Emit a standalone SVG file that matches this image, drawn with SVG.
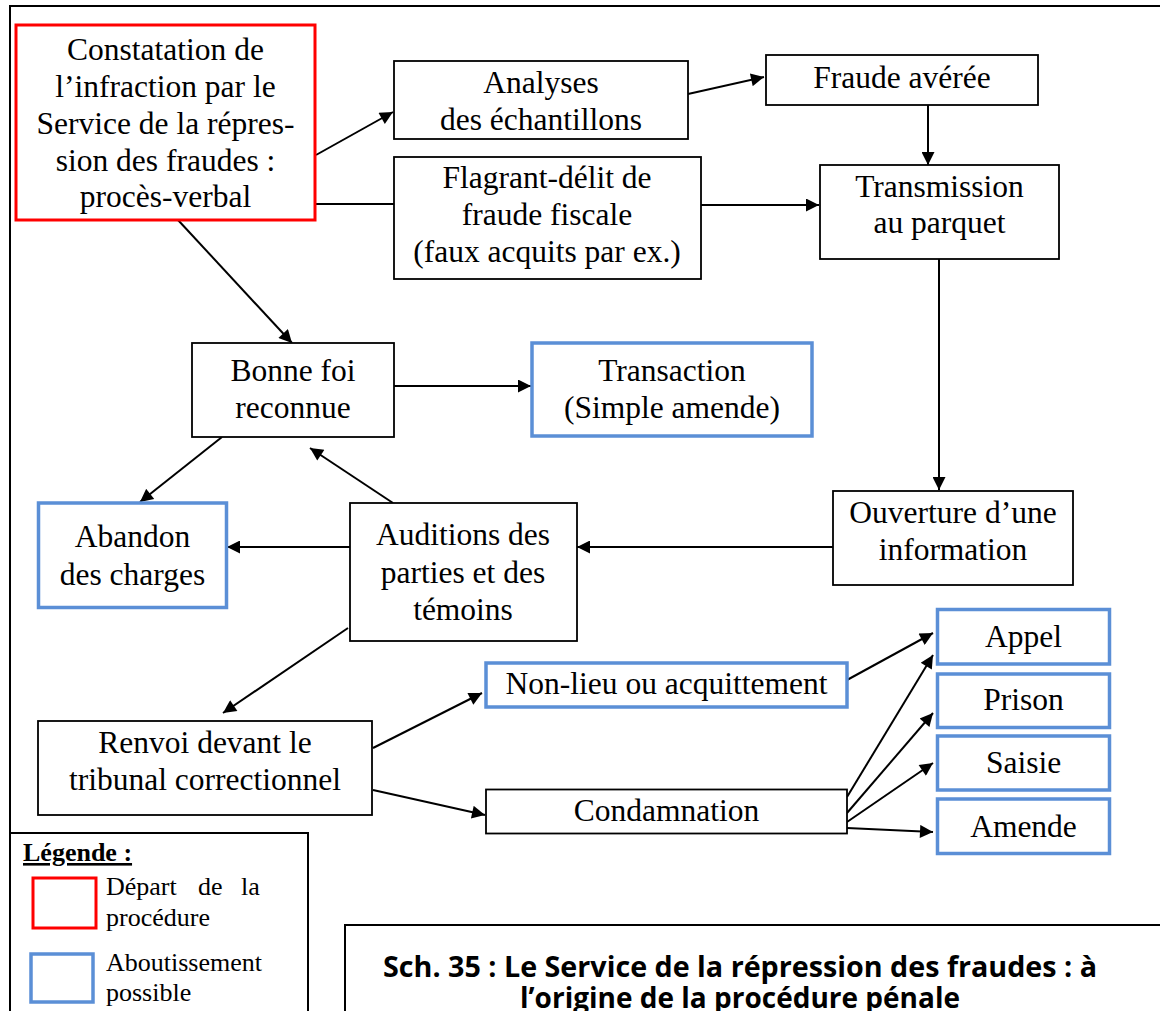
<svg xmlns="http://www.w3.org/2000/svg" width="1160" height="1011" viewBox="0 0 1160 1011">
<style>
.t{font-family:"Liberation Serif","Times New Roman",serif;font-size:31.5px;fill:#000;text-anchor:middle}
.lg{font-family:"Liberation Serif","Times New Roman",serif;font-size:26px;fill:#000}
.b{fill:#fff;stroke:#000;stroke-width:1.8}
.r{fill:#fff;stroke:#ff0000;stroke-width:3}
.u{fill:#fff;stroke:#5b8fd6;stroke-width:3.5}
.c{stroke:#000;stroke-width:2;fill:none}
.a{stroke:#000;stroke-width:2;fill:none;marker-end:url(#ah)}
.ttl{font-family:"Open Sans","Noto Sans","Liberation Sans",sans-serif;font-weight:bold;font-size:29px;fill:#000;text-anchor:middle}
</style>
<defs>
<marker id="ah" viewBox="0 0 10 10" refX="10" refY="5" markerWidth="15" markerHeight="13" markerUnits="userSpaceOnUse" orient="auto">
<path d="M0,0 L10,5 L0,10 z" fill="#000"/>
</marker>
</defs>
<rect width="1160" height="1011" fill="#fff"/>
<g id="frame">
<path d="M10,1011 V6 H1160" class="c" stroke-width="1.8"/>
</g>
<g id="connectors">
<line x1="316" y1="155" x2="393" y2="112" class="a"/>
<line x1="688" y1="94" x2="764" y2="77" class="a"/>
<line x1="928" y1="105" x2="928" y2="165" class="a"/>
<line x1="315" y1="204" x2="394" y2="204" class="c"/>
<line x1="701" y1="205" x2="819" y2="205" class="a"/>
<line x1="178" y1="220" x2="292" y2="343" class="a"/>
<line x1="939" y1="259" x2="939" y2="490" class="a"/>
<line x1="394" y1="386" x2="531" y2="386" class="a"/>
<line x1="222" y1="437" x2="140" y2="502" class="a"/>
<line x1="393" y1="503" x2="310" y2="448" class="a"/>
<line x1="350" y1="547" x2="227" y2="547" class="a"/>
<line x1="833" y1="547" x2="577" y2="547" class="a"/>
<line x1="348" y1="628" x2="223" y2="713" class="a"/>
<line x1="373" y1="748" x2="482" y2="693" class="a"/>
<line x1="373" y1="790" x2="485" y2="815" class="a"/>
<line x1="847" y1="680" x2="933" y2="633" class="a"/>
<line x1="847" y1="797" x2="933" y2="655" class="a"/>
<line x1="847" y1="813" x2="933" y2="713" class="a"/>
<line x1="847" y1="822" x2="933" y2="763" class="a"/>
<line x1="847" y1="828" x2="933" y2="832" class="a"/>
</g>
<g id="n-constatation">
<rect x="16" y="25" width="299" height="195" class="r"/>
<text class="t" x="165.5" y="60">Constatation de</text>
<text class="t" x="165.5" y="97">l’infraction par le</text>
<text class="t" x="165.5" y="134">Service de la répres-</text>
<text class="t" x="165.5" y="171">sion des fraudes :</text>
<text class="t" x="165.5" y="207">procès-verbal</text>
</g>
<g id="n-analyses">
<rect x="394" y="61" width="294" height="78" class="b"/>
<text class="t" x="541" y="93">Analyses</text>
<text class="t" x="541" y="130">des échantillons</text>
</g>
<g id="n-fraude">
<rect x="766" y="55" width="272" height="50" class="b"/>
<text class="t" x="902" y="88">Fraude avérée</text>
</g>
<g id="n-flagrant">
<rect x="394" y="157" width="307" height="122" class="b"/>
<text class="t" x="547" y="188">Flagrant-délit de</text>
<text class="t" x="547" y="225">fraude fiscale</text>
<text class="t" x="547" y="262">(faux acquits par ex.)</text>
</g>
<g id="n-transmission">
<rect x="820" y="165" width="239" height="94" class="b"/>
<text class="t" x="939.5" y="197">Transmission</text>
<text class="t" x="939.5" y="233">au parquet</text>
</g>
<g id="n-bonnefoi">
<rect x="192" y="343" width="202" height="94" class="b"/>
<text class="t" x="293" y="381">Bonne foi</text>
<text class="t" x="293" y="418">reconnue</text>
</g>
<g id="n-transaction">
<rect x="532" y="343" width="280" height="93" class="u"/>
<text class="t" x="672" y="381">Transaction</text>
<text class="t" x="672" y="418">(Simple amende)</text>
</g>
<g id="n-abandon">
<rect x="38.5" y="503" width="188" height="104.5" class="u"/>
<text class="t" x="132.5" y="547">Abandon</text>
<text class="t" x="132.5" y="585">des charges</text>
</g>
<g id="n-auditions">
<rect x="350" y="503" width="227" height="138" class="b"/>
<text class="t" x="463" y="545">Auditions des</text>
<text class="t" x="463" y="583">parties et des</text>
<text class="t" x="463" y="620">témoins</text>
</g>
<g id="n-ouverture">
<rect x="833" y="491" width="240" height="94" class="b"/>
<text class="t" x="953" y="523">Ouverture d’une</text>
<text class="t" x="953" y="560">information</text>
</g>
<g id="n-renvoi">
<rect x="38" y="721" width="334" height="94" class="b"/>
<text class="t" x="205" y="753">Renvoi devant le</text>
<text class="t" x="205" y="790">tribunal correctionnel</text>
</g>
<g id="n-nonlieu">
<rect x="486" y="663" width="361" height="44" class="u"/>
<text class="t" x="666.5" y="694">Non-lieu ou acquittement</text>
</g>
<g id="n-condamnation">
<rect x="486" y="789.5" width="361" height="44" class="b"/>
<text class="t" x="666.5" y="821">Condamnation</text>
</g>
<g id="n-appel">
<rect x="937.5" y="609.5" width="172" height="54.5" class="u"/>
<text class="t" x="1023.5" y="647">Appel</text>
</g>
<g id="n-prison">
<rect x="937.5" y="674" width="172" height="53.5" class="u"/>
<text class="t" x="1023.5" y="710">Prison</text>
</g>
<g id="n-saisie">
<rect x="937.5" y="736" width="172" height="54" class="u"/>
<text class="t" x="1023.5" y="773">Saisie</text>
</g>
<g id="n-amende">
<rect x="937.5" y="799" width="172" height="54.5" class="u"/>
<text class="t" x="1023.5" y="837">Amende</text>
</g>
<g id="legend">
<path d="M10,833 H308 V1011" class="c" stroke-width="1.8"/>
<text class="lg" x="23" y="861" font-weight="bold" text-decoration="underline">Légende :</text>
<rect x="33" y="878" width="63" height="50" fill="none" stroke="#ff0000" stroke-width="3"/>
<text class="lg" y="895"><tspan x="106">Départ</tspan><tspan x="198">de</tspan><tspan x="241">la</tspan></text>
<text class="lg" x="106" y="926">procédure</text>
<rect x="31" y="954" width="62" height="48" fill="none" stroke="#5b8fd6" stroke-width="3.5"/>
<text class="lg" x="106" y="971">Aboutissement</text>
<text class="lg" x="106" y="1001">possible</text>
</g>
<g id="title">
<path d="M345,1011 V925 H1160" class="c" stroke-width="1.8"/>
<text class="ttl" x="740" y="977" textLength="714" lengthAdjust="spacingAndGlyphs">Sch. 35 : Le Service de la répression des fraudes : à</text>
<text class="ttl" x="740" y="1008" textLength="440" lengthAdjust="spacingAndGlyphs">l’origine de la procédure pénale</text>
</g>
</svg>
